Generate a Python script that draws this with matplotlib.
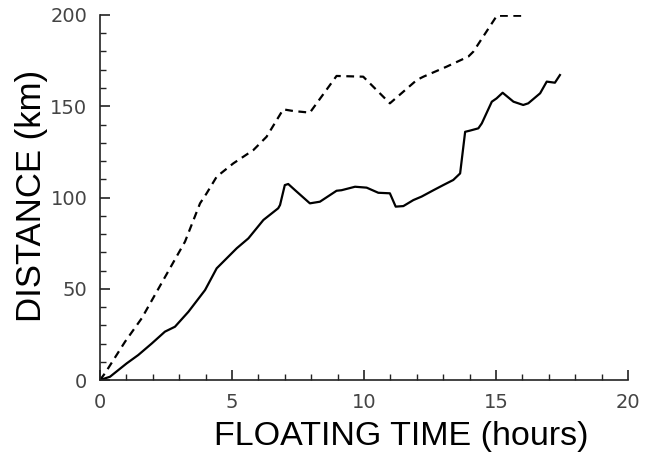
import numpy as np
import matplotlib
matplotlib.use("Agg")
import matplotlib.pyplot as plt
from matplotlib.ticker import MultipleLocator

# floating time (hours) and distance (km)
solid_t = [0.0, 0.38, 1.01, 1.45, 1.96, 2.46, 2.84, 3.35, 3.98, 4.42, 5.18, 5.62,
           6.19, 6.75, 6.82, 7.0, 7.13, 7.39, 7.95, 8.33, 8.96, 9.15, 9.66, 10.1,
           10.54, 10.98, 11.2, 11.49, 11.87, 12.18, 12.63, 13.0, 13.38, 13.64,
           13.83, 14.0, 14.33, 14.46, 14.84, 15.02, 15.25, 15.66, 16.03, 16.22,
           16.67, 16.92, 17.23, 17.42]
solid_d = [0.0, 1.8, 9.1, 13.7, 20.0, 26.5, 29.2, 37.4, 49.3, 61.2, 72.2, 77.6,
           87.7, 94.1, 95.9, 106.8, 107.4, 104.0, 96.8, 97.7, 103.7, 104.0, 105.9,
           105.4, 102.6, 102.3, 95.0, 95.3, 98.6, 100.5, 104.0, 106.8, 109.6, 113.2,
           136.0, 136.6, 137.9, 140.6, 152.5, 154.3, 157.4, 152.5, 150.7, 151.6,
           157.1, 163.5, 162.9, 167.1]

dash_t = [0.0, 0.19, 0.95, 1.58, 2.4, 3.22, 3.79, 4.04, 4.42, 5.05, 5.81, 6.31,
          6.94, 7.32, 7.95, 8.96, 9.97, 10.98, 12.0, 12.25, 13.13, 13.95, 14.14,
          15.03, 16.0]
dash_d = [0.0, 3.7, 21.0, 33.8, 54.8, 75.8, 96.8, 102.3, 111.4, 118.7, 126.0, 133.3,
          148.3, 147.4, 146.5, 166.6, 166.2, 151.6, 164.4, 166.2, 171.7, 177.2, 179.9,
          199.6, 199.6]

fig = plt.figure(figsize=(6.56, 4.53), dpi=100)
ax = fig.add_axes([0.1524, 0.1611, 0.805, 0.8058])

ax.plot(solid_t, solid_d, color="black", lw=1.6, solid_joinstyle="round")
ax.plot(dash_t, dash_d, color="black", lw=1.6, dashes=(3.5, 2.5))

ax.set_xlim(0, 20)
ax.set_ylim(0, 200)
ax.xaxis.set_major_locator(MultipleLocator(5))
ax.xaxis.set_minor_locator(MultipleLocator(1))
ax.yaxis.set_major_locator(MultipleLocator(50))
ax.yaxis.set_minor_locator(MultipleLocator(10))

for s in ["top", "right"]:
    ax.spines[s].set_visible(False)
for s in ["left", "bottom"]:
    ax.spines[s].set_linewidth(1.2)
    ax.spines[s].set_color("#222222")

ax.tick_params(which="major", direction="in", length=7, width=1.2, color="#222222",
               labelsize=14, labelcolor="#444444", pad=9)
ax.tick_params(which="minor", direction="in", length=4, width=1.0, color="#222222")

ax.set_xlabel("FLOATING TIME (hours)", family="Liberation Sans", fontsize=24.5)
ax.set_ylabel("DISTANCE (km)", family="Liberation Sans", fontsize=25)
ax.xaxis.set_label_coords(0.571, -0.113)
ax.yaxis.set_label_coords(-0.098, 0.503)

fig.savefig("out.png", dpi=100)
